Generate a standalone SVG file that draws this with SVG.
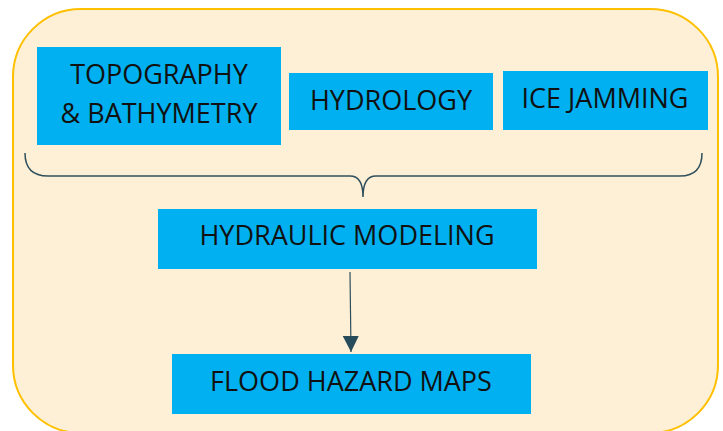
<svg xmlns="http://www.w3.org/2000/svg" width="723" height="431" viewBox="0 0 723 431">
<style>
.box{fill:#00B0F0}
.t{font-family:"Open Sans","Liberation Sans",sans-serif;font-size:27px;fill:#111;text-anchor:middle}
.c{fill:none;stroke:#2F4F5C;stroke-width:1.5}
</style>
<defs>
<marker id="ah" markerWidth="16" markerHeight="16" refX="16" refY="8" orient="auto" markerUnits="userSpaceOnUse" viewBox="0 0 16 16">
<path d="M0,0 L16,8 L0,16 Z" fill="#264B5A"/>
</marker>
</defs>
<rect x="0" y="0" width="723" height="431" fill="#ffffff"/>
<rect id="frame" x="13" y="9" width="705" height="424" rx="68" ry="68" fill="#FEF0D7" stroke="#FFC000" stroke-width="2"/>
<g id="topography">
<rect class="box" x="37" y="47" width="244" height="98"/>
<text class="t" x="159" y="84">TOPOGRAPHY</text>
<text class="t" x="159" y="123">&amp; BATHYMETRY</text>
</g>
<g id="hydrology">
<rect class="box" x="289" y="73" width="204" height="57"/>
<text class="t" x="391" y="110">HYDROLOGY</text>
</g>
<g id="ice">
<rect class="box" x="503" y="71" width="205" height="59"/>
<text class="t" x="605" y="108">ICE JAMMING</text>
</g>
<g id="hydraulic">
<rect class="box" x="158" y="209" width="379" height="60"/>
<text class="t" x="347" y="245">HYDRAULIC MODELING</text>
</g>
<g id="flood">
<rect class="box" x="172" y="354" width="359" height="60"/>
<text class="t" x="351" y="391">FLOOD HAZARD MAPS</text>
</g>
<g id="connectors">
<path class="c" d="M25,153 Q25,176 48,176 L350,176 Q363,176 363,197 Q363,176 376,176 L680,176 Q702,176 702,153"/>
<path class="c" d="M350,272 L351,352" marker-end="url(#ah)" style="stroke-width:1.2"/>
</g>
</svg>
